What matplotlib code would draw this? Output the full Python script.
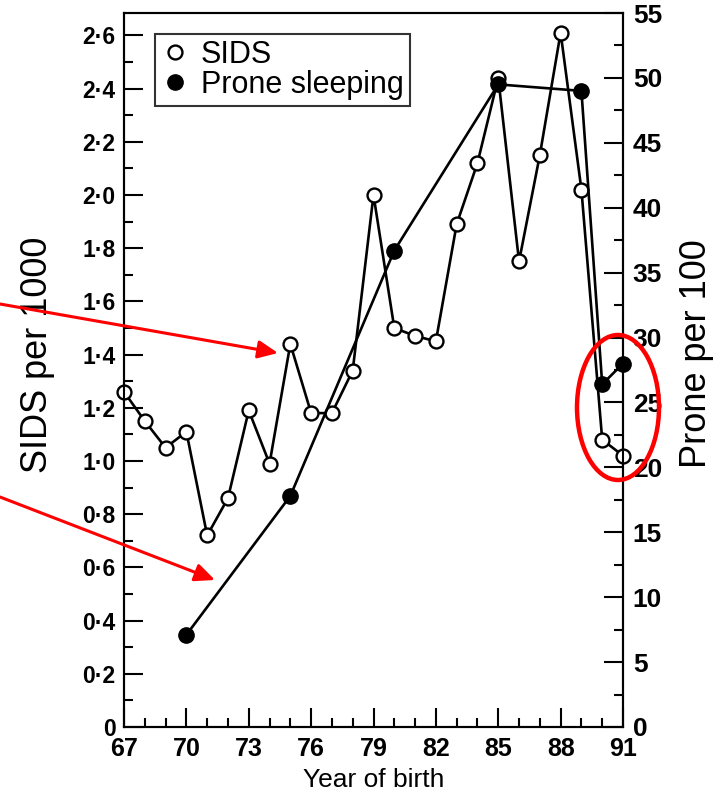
import matplotlib
matplotlib.use("Agg")
import matplotlib.pyplot as plt
from matplotlib.lines import Line2D
from matplotlib.patches import Ellipse, FancyArrowPatch
from matplotlib.ticker import MultipleLocator

# ---- data ----
sids_years = [67, 68, 69, 70, 71, 72, 73, 74, 75, 76, 77, 78, 79, 80, 81, 82, 83, 84, 85, 86, 87, 88, 89, 90, 91]
sids_rate = [1.26, 1.15, 1.05, 1.11, 0.72, 0.86, 1.19, 0.99, 1.44, 1.18, 1.18, 1.34, 2.00, 1.50, 1.47, 1.45, 1.89, 2.12, 2.44, 1.75, 2.15, 2.61, 2.02, 1.08, 1.02]
prone_years = [70, 75, 80, 85, 89, 90, 91]
prone_rate = [7.1, 17.8, 36.7, 49.5, 49.0, 26.4, 28.0]

x_ticks = [67, 70, 73, 76, 79, 82, 85, 88, 91]
left_ticks = [0, 0.2, 0.4, 0.6, 0.8, 1.0, 1.2, 1.4, 1.6, 1.8, 2.0, 2.2, 2.4, 2.6]
left_tick_labels = ["0", "0·2", "0·4", "0·6", "0·8", "1·0", "1·2", "1·4", "1·6", "1·8", "2·0", "2·2", "2·4", "2·6"]
right_ticks = [0, 5, 10, 15, 20, 25, 30, 35, 40, 45, 50, 55]

FONT = ["Liberation Sans", "DejaVu Sans"]
plt.rcParams["font.family"] = FONT

W, H = 726, 802
fig = plt.figure(figsize=(W / 100, H / 100), dpi=100)
fig.patch.set_facecolor("white")

ax = fig.add_axes([124 / W, 1 - 727 / H, 499 / W, 714 / H])
ax2 = ax.twinx()

# SIDS series
ax.plot(sids_years, sids_rate, color="black", lw=1.9, marker="o", ms=10,
        mfc="white", mec="black", mew=1.7, zorder=3, clip_on=False)
ax.set_xlim(67, 91)
ax.set_ylim(0, 2.684)

# Prone series
ax2.plot(prone_years, prone_rate, color="black", lw=1.9, marker="o", ms=11,
         mfc="black", mec="black", zorder=3, clip_on=False)
ax2.set_ylim(0, 55)

for a in (ax, ax2):
    for s in a.spines.values():
        s.set_linewidth(1.5)

ax.set_xticks(x_ticks)
ax.set_xticklabels([str(v) for v in x_ticks])
ax.xaxis.set_minor_locator(MultipleLocator(1))
ax.set_yticks(left_ticks)
ax.set_yticklabels(left_tick_labels)
ax.yaxis.set_minor_locator(MultipleLocator(0.1))

ax.tick_params(axis="both", which="major", direction="in", length=14, width=1.5)
ax.tick_params(axis="both", which="minor", direction="in", length=6.5, width=1.5)
ax.tick_params(axis="x", which="both", top=False, labelsize=18, pad=7)
ax.tick_params(axis="y", which="both", right=False, labelsize=16.5, pad=6)
for lab in ax.get_yticklabels():
    lab.set_fontweight("bold")
for lab in ax.get_xticklabels():
    lab.set_fontweight("bold")

ax2.set_yticks(right_ticks)
ax2.set_yticklabels([str(v) for v in right_ticks])
ax2.yaxis.set_minor_locator(MultipleLocator(2.5))
ax2.tick_params(axis="y", which="major", direction="in", length=14, width=1.5, labelsize=19, pad=7)
ax2.tick_params(axis="y", which="minor", direction="in", length=6.5, width=1.5)
for lab in ax2.get_yticklabels():
    lab.set_fontweight("bold")

ax.set_xlabel("Year of birth", fontsize=19, labelpad=5)

fig.text(38 / W, 1 - 355 / H, "SIDS per 1000", rotation=90, fontsize=26,
         ha="center", va="center")
fig.text(697 / W, 1 - 354 / H, "Prone per 100", rotation=90, fontsize=26,
         ha="center", va="center")

# legend
handles = [
    Line2D([], [], ls="none", marker="o", ms=10, mfc="white", mec="black", mew=1.7),
    Line2D([], [], ls="none", marker="o", ms=11, mfc="black", mec="black"),
]
leg = ax2.legend(handles, ["SIDS", "Prone sleeping"], loc="upper left",
                 bbox_to_anchor=(31 / 499, 1 - 21 / 714), borderaxespad=0,
                 fontsize=22, frameon=True, fancybox=False, handlelength=0.9,
                 handletextpad=0.4, labelspacing=0.0, borderpad=0.2)
leg.get_frame().set_edgecolor("black")
leg.get_frame().set_linewidth(1.5)

# red annotations
red = "#ff0000"
fig.add_artist(Ellipse((618 / W, 1 - 407.5 / H), 82 / W, 145 / H,
                       transform=fig.transFigure, fill=False, ec=red, lw=3.2, zorder=10))
for (x0, y0), (x1, y1) in [((0, 304), (278, 353)), ((0, 497), (215, 580))]:
    fig.add_artist(FancyArrowPatch(
        (x0 / W, 1 - y0 / H), (x1 / W, 1 - y1 / H), transform=fig.transFigure,
        arrowstyle="-|>,head_length=0.6,head_width=0.27", mutation_scale=20,
        color=red, lw=2.2, shrinkA=0, shrinkB=0, zorder=10))

fig.savefig("out.png", dpi=100)
